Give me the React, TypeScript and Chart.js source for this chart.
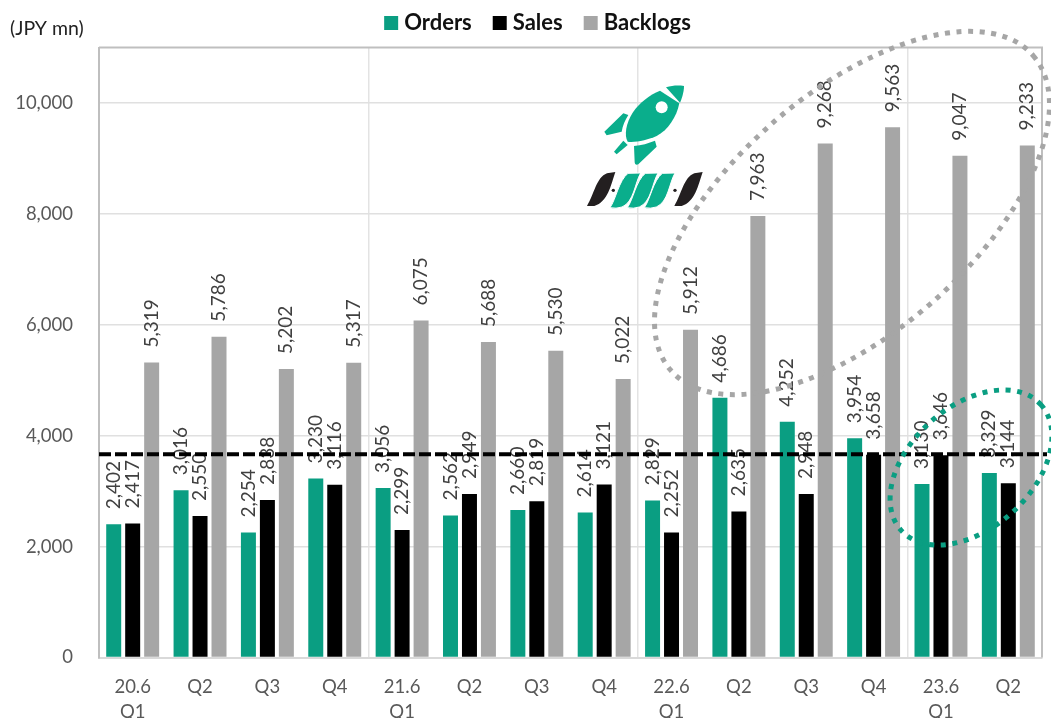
import React, { useEffect, useRef } from "react";
import { Chart, registerables } from "chart.js";

Chart.register(...registerables);

const categories: string[][] = [
  ["20.6", "Q1"], ["Q2"], ["Q3"], ["Q4"],
  ["21.6", "Q1"], ["Q2"], ["Q3"], ["Q4"],
  ["22.6", "Q1"], ["Q2"], ["Q3"], ["Q4"],
  ["23.6", "Q1"], ["Q2"],
];
const orders = [2402, 3016, 2254, 3230, 3056, 2562, 2660, 2614, 2829, 4686, 4252, 3954, 3130, 3329];
const sales = [2417, 2550, 2838, 3116, 2299, 2949, 2819, 3121, 2252, 2635, 2948, 3658, 3646, 3144];
const backlogs = [5319, 5786, 5202, 5317, 6075, 5688, 5530, 5022, 5912, 7963, 9268, 9563, 9047, 9233];
const yTicks = [0, 2000, 4000, 6000, 8000, 10000];
const referenceLevel = 3664;

const GREEN = "#0A9E82";
const GRAY = "#A6A6A6";
const FONT = "Lato";

const annotations: any = {
  id: "annotations",
  afterLayout(chart: any) {
    const l = chart.legend;
    if (l) {
      l.left += 19;
      l.right += 19;
      l.top = -14;
    }
  },
  beforeDatasetsDraw(chart: any) {
    const { ctx, chartArea: a } = chart;
    ctx.save();
    ctx.strokeStyle = "#BFBFBF";
    ctx.lineWidth = 2;
    ctx.beginPath();
    ctx.moveTo(a.left, a.top);
    ctx.lineTo(a.right, a.top);
    ctx.lineTo(a.right, a.bottom);
    ctx.stroke();
    ctx.restore();
  },
  afterDatasetsDraw(chart: any) {
    const { ctx, chartArea: a, scales } = chart;
    ctx.save();
    // value labels
    ctx.font = `19px ${FONT}`;
    ctx.fillStyle = "#404040";
    ctx.textAlign = "left";
    ctx.textBaseline = "middle";
    chart.data.datasets.forEach((ds: any, i: number) => {
      chart.getDatasetMeta(i).data.forEach((bar: any, j: number) => {
        ctx.save();
        ctx.translate(bar.x, bar.y - 15);
        ctx.rotate(-Math.PI / 2);
        ctx.fillText(ds.data[j].toLocaleString("en-US"), 0, 0);
        ctx.restore();
      });
    });
    // reference line
    const y = scales.y.getPixelForValue(referenceLevel);
    ctx.strokeStyle = "#000";
    ctx.lineWidth = 4;
    ctx.setLineDash([12, 4]);
    ctx.beginPath();
    ctx.moveTo(a.left, y);
    ctx.lineTo(1047, y);
    ctx.stroke();
    // highlight ellipses
    ctx.lineWidth = 5;
    ctx.setLineDash([5, 6.6]);
    ctx.strokeStyle = GRAY;
    ctx.beginPath();
    ctx.ellipse(852, 213, 240, 120, (-41 * Math.PI) / 180, 0, Math.PI * 2);
    ctx.stroke();
    ctx.strokeStyle = GREEN;
    ctx.beginPath();
    ctx.ellipse(971, 467.5, 94, 61, (-42 * Math.PI) / 180, 0, Math.PI * 2);
    ctx.stroke();
    // unit caption
    ctx.setLineDash([]);
    ctx.font = `19.5px ${FONT}`;
    ctx.fillStyle = "#222";
    ctx.textAlign = "left";
    ctx.textBaseline = "middle";
    ctx.fillText("(JPY mn)", 10, 29);
    ctx.restore();
  },
};

function blackSwoosh(x: number) {
  return `M${x},408 C${x + 22},372 ${x + 28},322 ${x + 60},310 L${x + 85},306 C${x + 72},345 ${x + 62},396 ${x + 22},408 Z`;
}
function greenSwoosh(x: number) {
  return `M${x},413 C${x + 18},388 ${x + 26},332 ${x + 54},310 L${x + 92},309 C${x + 74},340 ${x + 72},396 ${x + 36},411 Q${x + 18},417 ${x},413 Z`;
}

function Logo() {
  const teal = "#0AAE8C";
  return (
    <svg
      width={180}
      height={150}
      viewBox="0 0 540 450"
      style={{ position: "absolute", left: 560, top: 70, pointerEvents: "none" }}
    >
      <path fill={teal} d="M300,62 L358,100 C350,140 325,180 290,198 C265,210 225,218 203,215 C192,195 198,160 218,128 C238,98 268,75 300,62 Z" />
      <path fill={teal} d="M318,52 C338,46 355,46 372,48 C372,65 366,85 360,98 Z" />
      <path fill={teal} d="M190,130 L205,135 C195,150 188,168 185,185 L140,196 L133,185 Z" />
      <path fill={teal} d="M285,212 L290,230 L235,283 C228,286 224,282 224,276 L222,228 C245,226 265,220 285,212 Z" />
      <path fill={teal} d="M190,212 L203,225 L170,253 L162,245 Z" />
      <circle cx={305} cy={112} r={18} fill="#fff" />
      <path fill="#231F20" d={blackSwoosh(81)} />
      <path fill="#231F20" d={blackSwoosh(343)} />
      <circle cx={160} cy={361} r={5} fill="#231F20" />
      <circle cx={345} cy={361} r={5} fill="#231F20" />
      <path fill={teal} stroke="#fff" strokeWidth={3} d={greenSwoosh(253)} />
      <path fill={teal} stroke="#fff" strokeWidth={3} d={greenSwoosh(202)} />
      <path fill={teal} stroke="#fff" strokeWidth={3} d={greenSwoosh(150)} />
    </svg>
  );
}

export default function App() {
  const ref = useRef<HTMLCanvasElement>(null);
  useEffect(() => {
    const mk = (label: string, data: number[], color: string) => ({
      label,
      data,
      backgroundColor: color,
      borderWidth: 0,
      barPercentage: 0.79,
      categoryPercentage: 0.845,
    });
    const chart = new Chart(ref.current!, {
      type: "bar",
      data: {
        labels: categories,
        datasets: [mk("Orders", orders, GREEN), mk("Sales", sales, "#000000"), mk("Backlogs", backlogs, GRAY)],
      },
      plugins: [annotations],
      options: {
        animation: false,
        responsive: false,
        layout: { padding: { top: 0, left: 0, right: 9, bottom: 0 } },
        plugins: {
          tooltip: { enabled: false },
          legend: {
            position: "top",
            maxHeight: 47.5,
            labels: {
              boxWidth: 4,
              boxHeight: 4,
              padding: 26,
              color: "#111",
              font: { family: FONT, size: 22, weight: "bold" },
              generateLabels: (c: any) =>
                c.data.datasets.map((d: any, i: number) => ({
                  text: d.label,
                  fillStyle: d.backgroundColor,
                  strokeStyle: d.backgroundColor,
                  lineWidth: 10,
                  datasetIndex: i,
                  fontColor: "#111",
                })),
            },
          },
        },
        scales: {
          x: {
            afterFit: (s: any) => { s.height = 60.5; },
            border: { color: "#D9D9D9", width: 2 },
            grid: {
              offset: true,
              drawTicks: false,
              lineWidth: 1.5,
              color: (c: any) => (c.index % 4 === 0 && c.index > 0 ? "#E3E3E3" : "rgba(0,0,0,0)"),
            },
            ticks: {
              autoSkip: false,
              maxRotation: 0,
              padding: 17.5,
              color: "#595959",
              font: { family: FONT, size: 18.5, lineHeight: 1.35 },
            },
          },
          y: {
            min: 0,
            max: 11000,
            afterFit: (s: any) => { s.width = 99; },
            afterBuildTicks: (s: any) => { s.ticks = yTicks.map((value) => ({ value })); },
            border: { color: "#BFBFBF", width: 2 },
            grid: { drawTicks: false, color: "#E0E0E0", lineWidth: 1.5 },
            ticks: {
              padding: 26,
              color: "#595959",
              font: { family: FONT, size: 18.5 },
              callback: (v: any) => Number(v).toLocaleString("en-US"),
            },
          },
        },
      },
    } as any);
    return () => chart.destroy();
  }, []);
  return (
    <div style={{ position: "absolute", left: 0, top: 0, width: 1051, height: 718, overflow: "hidden", background: "#fff" }}>
      <canvas ref={ref} width={1051} height={718} style={{ display: "block", width: 1051, height: 718 }} />
      <Logo />
    </div>
  );
}
